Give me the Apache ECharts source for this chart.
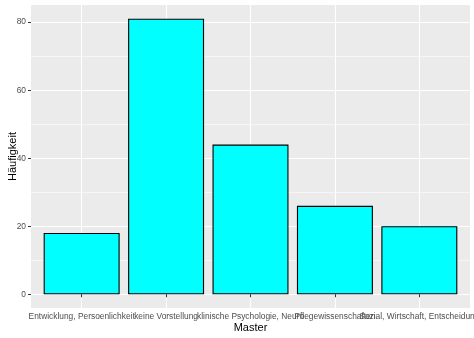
<!DOCTYPE html>
<html><head><meta charset="utf-8">
<script src="https://cdn.jsdelivr.net/npm/echarts@6/dist/echarts.min.js"></script>
<style>html,body{margin:0;padding:0;background:#fff}#c{width:474px;height:338px}</style>
</head><body><div id="c"></div>
<script>
const categories = ["Entwicklung, Persoenlichkeit", "keine Vorstellung", "klinische Psychologie, Neuro", "Pflegewissenschaften", "Sozial, Wirtschaft, Entscheidung"];
const counts = [18, 81, 44, 26, 20];
const yTickMin = 0, yTickMax = 80, yTickStep = 20;
const yPanelMin = -4.05, yPanelMax = 85.05;

const W = 474, H = 338;
const pL = 31, pR = 4, pT = 5, pB = 30;           // panel
const panelH = H - pT - pB;
const k = panelH / (yPanelMax - yPanelMin);
const aTop = pT + (yPanelMax - yTickMax) * k;
const aBottom = pB + (yTickMin - yPanelMin) * k;
const panelW = W - pL - pR;
const n = categories.length;
const step = panelW / (n - 1 + 1.2);
const bL = pL + 0.6 * step, bR = pR + 0.6 * step;

const font = "Liberation Sans";
const tickFont = 8.4;
const gridBase = {containLabel: false, outerBoundsMode: 'none'};
const chart = echarts.init(document.getElementById('c'), null, {renderer: 'canvas'});
chart.setOption({
  animation: false,
  backgroundColor: '#ffffff',
  textStyle: {fontFamily: font},
  grid: [
    Object.assign({left: pL, right: pR, top: pT, bottom: pB, show: true, backgroundColor: '#EBEBEB', borderWidth: 0}, gridBase),
    Object.assign({left: pL, right: pR, top: aTop, bottom: aBottom}, gridBase),
    Object.assign({left: bL, right: bR, top: pT, bottom: pB}, gridBase)
  ],
  xAxis: [
    {gridIndex: 0, type: 'value', min: 0, max: 1, name: 'Master', nameLocation: 'middle', nameGap: 14,
     nameTextStyle: {fontSize: 11, color: '#000', fontFamily: font},
     axisLabel: {show: false}, axisTick: {show: false}, axisLine: {show: false}, splitLine: {show: false}},
    {gridIndex: 1, type: 'value', min: 0, max: 1, show: false},
    {gridIndex: 2, type: 'category', data: categories, boundaryGap: false,
     axisLine: {show: false},
     axisTick: {show: true, length: 3, lineStyle: {color: '#333333', width: 1}},
     axisLabel: {interval: 0, fontSize: tickFont, color: '#4D4D4D', margin: 5, fontFamily: font},
     splitLine: {show: true, lineStyle: {color: '#ffffff', width: 1.1}}}
  ],
  yAxis: [
    {gridIndex: 0, type: 'value', min: 0, max: 1, name: 'Häufigkeit', nameLocation: 'middle', nameGap: 13,
     nameTextStyle: {fontSize: 11, color: '#000', fontFamily: font},
     axisLabel: {show: false}, axisTick: {show: false}, axisLine: {show: false}, splitLine: {show: false}},
    {gridIndex: 1, type: 'value', min: yTickMin, max: yTickMax, interval: yTickStep,
     axisLine: {show: false},
     axisTick: {show: true, length: 3, lineStyle: {color: '#333333', width: 1}},
     axisLabel: {fontSize: tickFont, color: '#4D4D4D', margin: 5, fontFamily: font},
     splitLine: {show: true, lineStyle: {color: '#ffffff', width: 1.1}},
     minorTick: {show: false, splitNumber: 2},
     minorSplitLine: {show: true, lineStyle: {color: '#ffffff', width: 0.55}}},
    {gridIndex: 2, type: 'value', min: yPanelMin, max: yPanelMax, show: false}
  ],
  series: [{
    type: 'bar', xAxisIndex: 2, yAxisIndex: 2, data: counts, barWidth: '90%', clip: false,
    itemStyle: {color: '#00FFFF', borderColor: '#000000', borderWidth: 1.1}
  }]
});
</script></body></html>
